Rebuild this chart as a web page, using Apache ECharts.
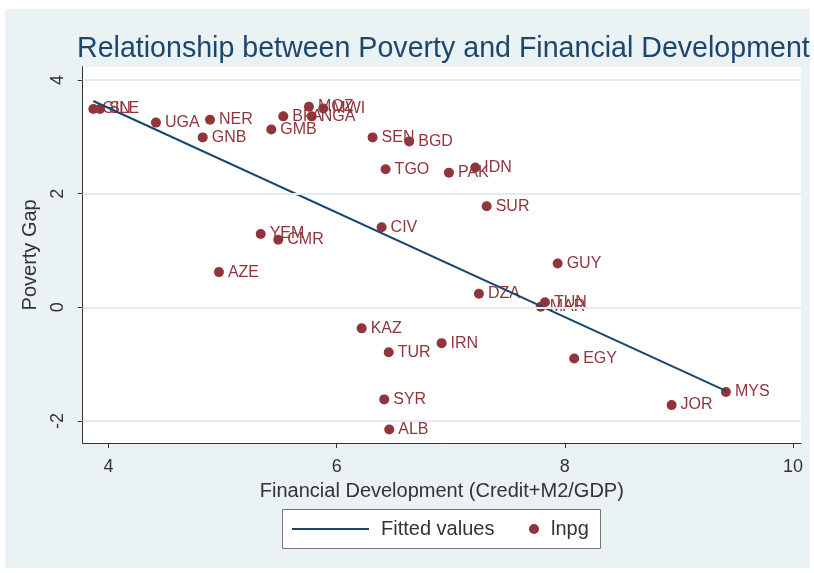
<!DOCTYPE html>
<html>
<head>
<meta charset="utf-8">
<script src="https://cdn.jsdelivr.net/npm/echarts@6.0.0/dist/echarts.min.js"></script>
<style>
  html, body { margin: 0; padding: 0; background: #ffffff; }
  #chart { width: 814px; height: 573px; }
</style>
</head>
<body>
<div id="chart"></div>
<script>
// Country codes with financial development (x) and log poverty gap (y)
var countries = ['GIN', 'SLE', 'UGA', 'NER', 'GNB', 'GMB', 'BFA', 'NGA', 'MOZ', 'MWI',
                 'SEN', 'BGD', 'TGO', 'PAK', 'IDN', 'SUR', 'YEM', 'CMR', 'CIV', 'AZE',
                 'GUY', 'DZA', 'TUN', 'MAR', 'EGY', 'KAZ', 'TUR', 'IRN', 'SYR', 'ALB',
                 'MYS', 'JOR'];
var finDev = [3.867, 3.925, 4.416, 4.890, 4.826, 5.427, 5.532, 5.781, 5.757, 5.883,
              6.315, 6.636, 6.429, 6.984, 7.215, 7.315, 5.334, 5.488, 6.394, 4.968,
              7.937, 7.247, 7.826, 7.788, 8.082, 6.219, 6.456, 6.920, 6.417, 6.461,
              9.412, 8.936];
var lnpg = [3.49, 3.49, 3.25, 3.30, 2.99, 3.13, 3.36, 3.36, 3.53, 3.50,
            2.99, 2.92, 2.43, 2.37, 2.46, 1.78, 1.29, 1.19, 1.41, 0.62,
            0.77, 0.24, 0.09, 0.01, -0.90, -0.37, -0.79, -0.63, -1.62, -2.15,
            -1.49, -1.72];

// Fitted regression line, end points
var fitX = [3.867, 9.412];
var fitY = [3.63, -1.47];

// Axis tick values
var xTicks = [4, 6, 8, 10];
var yTicks = [-2, 0, 2, 4];

var FONT = '"Liberation Sans", Arial, Helvetica, sans-serif';
var NAVY = '#1A476F';
var MAROON = '#90353B';
var BG = '#EAF2F3';
var AXIS = '#333333';

var scatterData = countries.map(function (c, i) {
  return { name: c, value: [finDev[i], lnpg[i]] };
});
var fitData = fitX.map(function (x, i) { return [x, fitY[i]]; });

var chart = echarts.init(document.getElementById('chart'), null, { renderer: 'canvas' });

chart.setOption({
  animation: false,
  backgroundColor: '#ffffff',
  textStyle: { fontFamily: FONT },
  graphic: [
    {
      type: 'rect', z: -10, silent: true,
      shape: { x: 5, y: 9, width: 805, height: 559 },
      style: { fill: BG }
    },
    {
      type: 'rect', z: 5, silent: true,
      shape: { x: 282.5, y: 509.5, width: 318, height: 39 },
      style: { fill: '#ffffff', stroke: '#777777', lineWidth: 1 }
    }
  ],
  title: {
    text: 'Relationship between Poverty and Financial Development',
    left: 77,
    top: 35,
    padding: 0,
    textStyle: { color: NAVY, fontSize: 28.6, fontWeight: 'normal', fontFamily: FONT }
  },
  legend: [
    {
      data: [{ name: 'Fitted values', icon: 'rect', itemStyle: { color: NAVY } }],
      left: 292, top: 519, padding: 0,
      itemWidth: 77, itemHeight: 2,
      z: 10,
      textStyle: { fontSize: 20, color: '#333333', fontFamily: FONT, padding: [0, 0, 0, 7] }
    },
    {
      data: [{ name: 'lnpg', icon: 'circle' }],
      left: 529, top: 519, padding: 0,
      itemWidth: 10, itemHeight: 10,
      z: 10,
      textStyle: { fontSize: 20, color: '#333333', fontFamily: FONT, padding: [0, 0, 0, 7] }
    }
  ],
  grid: {
    left: 82.7, top: 66.7, right: 13, bottom: 130,
    show: true, backgroundColor: '#ffffff', borderWidth: 0,
    containLabel: false
  },
  xAxis: {
    type: 'value',
    min: 3.774, max: 10.07,
    name: 'Financial Development (Credit+M2/GDP)',
    nameLocation: 'middle',
    nameGap: 38,
    nameTextStyle: { fontSize: 20, color: '#333333', fontFamily: FONT },
    axisLine: { show: true, onZero: false, lineStyle: { color: AXIS, width: 1 } },
    axisTick: { show: true, length: 5, customValues: xTicks, lineStyle: { color: AXIS } },
    axisLabel: { customValues: xTicks, fontSize: 18, color: '#333333', margin: 15, fontFamily: FONT },
    splitLine: { show: false }
  },
  yAxis: {
    type: 'value',
    min: -2.387, max: 4.234,
    name: 'Poverty Gap',
    nameLocation: 'middle',
    nameGap: 32,
    nameRotate: 90,
    nameTextStyle: { fontSize: 20, color: '#333333', fontFamily: FONT },
    axisLine: { show: true, onZero: false, lineStyle: { color: AXIS, width: 1 } },
    axisTick: { show: true, length: 5, customValues: yTicks, lineStyle: { color: AXIS } },
    axisLabel: { customValues: yTicks, rotate: 90, fontSize: 18, color: '#333333', margin: 16, fontFamily: FONT },
    splitLine: { show: false }
  },
  series: [
    {
      // horizontal grid lines at the y ticks
      type: 'line',
      data: [],
      z: 1,
      silent: true,
      markLine: {
        silent: true,
        symbol: 'none',
        label: { show: false },
        lineStyle: { color: '#E3EDEF', width: 2, type: 'solid' },
        data: yTicks.map(function (v) { return { yAxis: v }; })
      }
    },
    {
      name: 'lnpg',
      type: 'scatter',
      z: 2,
      symbol: 'circle',
      symbolSize: 10,
      itemStyle: { color: MAROON, opacity: 1 },
      label: {
        show: true,
        position: 'right',
        distance: 4,
        formatter: '{b}',
        color: MAROON,
        fontSize: 16,
        fontFamily: FONT
      },
      data: scatterData
    },
    {
      name: 'Fitted values',
      type: 'line',
      z: 3,
      symbol: 'none',
      lineStyle: { color: NAVY, width: 2 },
      itemStyle: { color: NAVY },
      data: fitData
    }
  ]
});
</script>
</body>
</html>
